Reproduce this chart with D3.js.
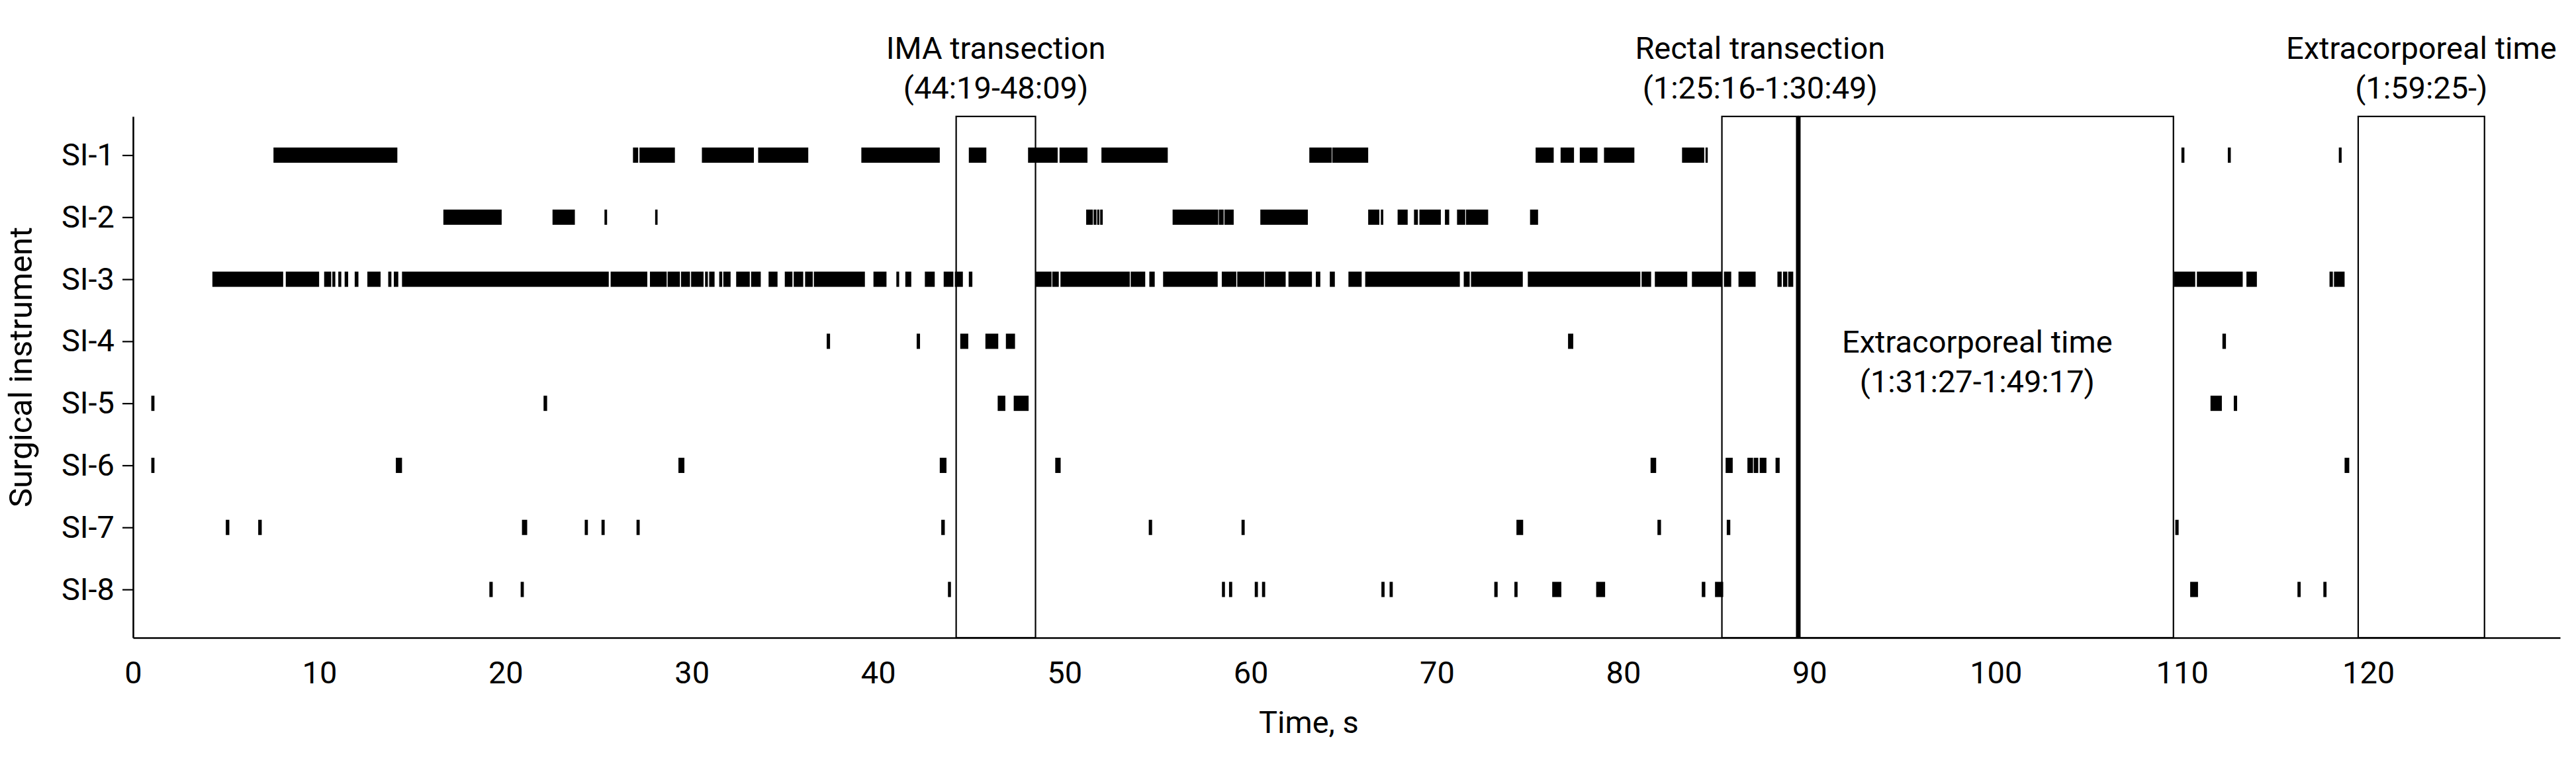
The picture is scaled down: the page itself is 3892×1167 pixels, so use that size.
<!DOCTYPE html>
<html>
<head>
<meta charset="utf-8">
<script src="https://cdn.jsdelivr.net/npm/d3@7"></script>
<style>
    body { margin: 0; background: #fff; }
    svg text { font-family: Roboto, "Noto Sans", sans-serif; fill: #000; }
</style>
</head>
<body>
<svg id="chart"></svg>
<script>

// instrument rows, top to bottom
const instruments = ["SI-1", "SI-2", "SI-3", "SI-4", "SI-5", "SI-6", "SI-7", "SI-8"];

// usage intervals [start, end] per instrument
const si1 = [[7.54, 14.19], [26.84, 27.12], [27.19, 29.09], [30.54, 33.33], [33.56, 36.25], [39.10, 43.31],
    [44.87, 45.81], [48.05, 49.64], [49.74, 51.24], [51.99, 55.55], [63.15, 64.35], [64.38, 66.31],
    [75.30, 76.27], [76.64, 77.36], [77.67, 78.62], [78.97, 80.60], [83.16, 84.35], [84.42, 84.54],
    [109.97, 110.13], [112.46, 112.62], [118.42, 118.57]];
const si2 = [[16.66, 19.79], [22.52, 23.72], [25.31, 25.45], [28.03, 28.16], [51.17, 51.53], [51.57, 51.72],
    [51.76, 51.88], [51.92, 52.06], [55.81, 58.26], [58.29, 58.55], [58.59, 59.09], [60.52, 63.07],
    [66.31, 66.91], [66.99, 67.12], [67.89, 68.43], [68.77, 68.98], [69.06, 70.21], [70.43, 70.66],
    [71.08, 71.52], [71.56, 72.75], [75.00, 75.43]];
const si3 = [[4.26, 8.06], [8.20, 9.99], [10.26, 10.64], [10.70, 10.86], [11.02, 11.18], [11.36, 11.55],
    [11.90, 12.10], [12.58, 13.29], [13.70, 13.87], [14.00, 14.24], [14.44, 25.54], [25.64, 27.61],
    [27.75, 28.65], [28.70, 29.36], [29.42, 29.90], [29.96, 30.63], [30.71, 30.86], [30.93, 31.22],
    [31.47, 31.63], [31.69, 32.08], [32.38, 33.11], [33.18, 33.70], [34.12, 34.60], [34.99, 35.40],
    [35.47, 35.98], [36.08, 36.49], [36.55, 39.29], [39.75, 40.45], [40.98, 41.13], [41.46, 41.78],
    [42.51, 43.04], [43.52, 44.04], [44.12, 44.55], [44.87, 45.06], [48.47, 49.31], [49.35, 49.70],
    [49.79, 53.51], [53.56, 54.34], [54.56, 54.85], [55.30, 58.23], [58.45, 59.23], [59.28, 60.72],
    [60.77, 61.88], [62.03, 63.29], [63.50, 63.74], [64.25, 64.52], [65.25, 65.96], [66.15, 71.23],
    [71.44, 71.76], [71.83, 74.61], [74.88, 80.92], [80.99, 81.50], [81.70, 83.44], [83.69, 85.32],
    [85.41, 85.80], [86.19, 87.11], [88.28, 88.51], [88.58, 88.81], [88.86, 89.13], [109.57, 110.71],
    [110.80, 113.26], [113.46, 114.02], [117.92, 118.10], [118.16, 118.73]];
const si4 = [[37.24, 37.42], [42.07, 42.25], [44.41, 44.84], [45.76, 46.45], [46.86, 47.35], [77.04, 77.32],
    [112.17, 112.36]];
const si5 = [[0.98, 1.15], [22.04, 22.23], [46.42, 46.83], [47.28, 48.08], [111.53, 112.14], [112.78, 112.96]];
const si6 = [[0.98, 1.15], [14.11, 14.44], [29.28, 29.60], [43.31, 43.67], [49.51, 49.80], [81.47, 81.77],
    [85.50, 85.88], [86.67, 86.97], [87.01, 87.25], [87.33, 87.69], [88.18, 88.40], [118.73, 118.98]];
const si7 = [[4.98, 5.17], [6.72, 6.91], [20.88, 21.16], [24.25, 24.42], [25.15, 25.32], [27.03, 27.20],
    [43.39, 43.58], [54.53, 54.71], [59.51, 59.68], [74.27, 74.63], [81.84, 82.03], [85.56, 85.75],
    [109.64, 109.82]];
const si8 = [[19.13, 19.31], [20.81, 20.98], [43.75, 43.91], [58.46, 58.62], [58.84, 59.01], [60.22, 60.39],
    [60.61, 60.78], [67.02, 67.19], [67.46, 67.63], [73.08, 73.26], [74.16, 74.33], [76.19, 76.68],
    [78.55, 79.03], [84.22, 84.41], [84.93, 85.37], [110.44, 110.86], [116.20, 116.37], [117.59, 117.76]];

const usage = [si1, si2, si3, si4, si5, si6, si7, si8];

// surgical phases drawn as boxes
const phaseNames = ["IMA transection", "Rectal transection", "Extracorporeal time", "Extracorporeal time"];
const phaseTimes = ["(44:19-48:09)", "(1:25:16-1:30:49)", "(1:31:27-1:49:17)", "(1:59:25-)"];
const phaseStart = [44.19, 85.30, 89.40, 119.46];
const phaseEnd = [48.45, 89.40, 109.54, 126.24];
const phaseInside = [false, false, true, false];

const xTicks = [0, 10, 20, 30, 40, 50, 60, 70, 80, 90, 100, 110, 120];


class TimelineChart {

    constructor(config) {
        this.config = {
            parent: config.parent,
            width: config.width || 3892,
            height: config.height || 1167,
            left: 201,
            right: 3868,
            top: 176,
            bottom: 964,
            barHeight: 23,
            fontSize: 47
        };
        this.init();
    }

    init() {
        let self = this;
        let c = self.config;

        self.svg = d3.select(c.parent)
            .attr('width', c.width)
            .attr('height', c.height);

        self.x = d3.scaleLinear()
            .domain([0, 130.3])
            .range([c.left, c.right]);

        // row index -> y; rows do not sit symmetrically inside the frame
        self.y = d3.scaleLinear()
            .domain([-0.624, 7.778])
            .range([c.top, c.bottom]);
    }

    render() {
        let self = this;
        let c = self.config;
        let x = self.x, y = self.y;

        // phase boxes
        let phases = phaseNames.map((name, i) => ({
            name: name, time: phaseTimes[i], start: phaseStart[i], end: phaseEnd[i], inside: phaseInside[i]
        }));

        self.svg.append('g').selectAll('rect')
            .data(phases).enter()
            .append('rect')
            .attr('x', d => x(d.start))
            .attr('y', c.top)
            .attr('width', d => x(d.end) - x(d.start))
            .attr('height', c.bottom - c.top)
            .attr('fill', 'none')
            .attr('stroke', 'black')
            .attr('stroke-width', 2.2);

        // end of rectal transection is marked with a heavy line
        self.svg.append('line')
            .attr('x1', x(phaseEnd[1])).attr('x2', x(phaseEnd[1]))
            .attr('y1', c.top).attr('y2', c.bottom)
            .attr('stroke', 'black')
            .attr('stroke-width', 7);

        let labels = self.svg.append('g').selectAll('g')
            .data(phases).enter()
            .append('g')
            .attr('transform', d => `translate(${(x(d.start) + x(d.end)) / 2 - (d.inside ? 13 : 0)}, ${d.inside ? 533 : 89})`);

        labels.append('text')
            .attr('text-anchor', 'middle')
            .style('font-size', c.fontSize + 'px')
            .text(d => d.name);

        labels.append('text')
            .attr('text-anchor', 'middle')
            .attr('y', 60)
            .style('font-size', c.fontSize + 'px')
            .text(d => d.time);

        // usage bars
        let rows = self.svg.append('g').selectAll('g')
            .data(usage).enter()
            .append('g')
            .attr('transform', (d, i) => `translate(0, ${y(i) - c.barHeight / 2})`);

        rows.selectAll('rect')
            .data(d => d).enter()
            .append('rect')
            .attr('x', d => x(d[0]))
            .attr('width', d => Math.max(1, x(d[1]) - x(d[0])))
            .attr('height', c.barHeight)
            .attr('fill', 'black');

        // axes
        let xAxis = self.svg.append('g')
            .attr('transform', `translate(0, ${c.bottom})`)
            .call(d3.axisBottom(x).tickValues(xTicks).tickSize(0).tickSizeOuter(0).tickPadding(36));

        let yAxis = self.svg.append('g')
            .attr('transform', `translate(${c.left}, 0)`)
            .call(d3.axisLeft(y).tickValues(d3.range(instruments.length))
                .tickFormat(i => instruments[i]).tickSize(16).tickSizeOuter(0).tickPadding(12));

        [xAxis, yAxis].forEach(a => {
            a.select('.domain').attr('stroke', 'black').attr('stroke-width', 2.6);
            a.selectAll('.tick line').attr('stroke', 'black').attr('stroke-width', 2.2);
            a.selectAll('.tick text')
                .style('font-size', c.fontSize + 'px')
                .style('font-family', 'Roboto, "Noto Sans", sans-serif')
                .attr('fill', 'black');
        });

        self.svg.append('text')
            .attr('x', (c.left + x(phaseEnd[3])) / 2)
            .attr('y', 1108)
            .attr('text-anchor', 'middle')
            .style('font-size', c.fontSize + 'px')
            .text('Time, s');

        self.svg.append('text')
            .attr('transform', `translate(48, ${(c.top + c.bottom) / 2 - 15}) rotate(-90)`)
            .attr('text-anchor', 'middle')
            .style('font-size', '49px')
            .text('Surgical instrument');
    }
}

let chart = new TimelineChart({ parent: '#chart' });
chart.render();
</script>
</body>
</html>
